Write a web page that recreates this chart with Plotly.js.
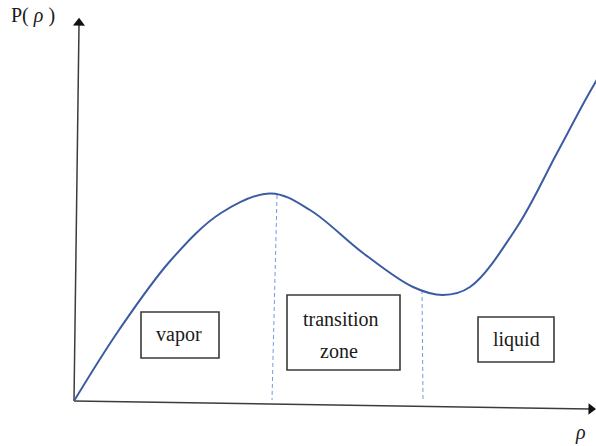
<!DOCTYPE html>
<html>
<head>
<meta charset="utf-8">
<script src="https://cdn.plot.ly/plotly-3.0.1.min.js"></script>
<style>html,body{margin:0;padding:0;background:#fff;}#chart{width:596px;height:446px;}</style>
</head>
<body>
<div id="chart"></div>
<script>
// Equation-of-state curve P(rho) (arbitrary units)
const rho = [0, 0.90, 1.94, 2.94, 3.94, 4.72, 5.78, 6.78, 7.38, 7.92, 8.86, 9.66, 10.26, 10.62];
const pressure = [0, 1.775, 3.525, 4.70, 5.19, 4.775, 3.70, 2.85, 2.65, 2.85, 4.35, 6.20, 7.60, 8.375];

// Dashed phase boundaries (top on the curve, bottom at the axis)
const boundaryRho = [[4.06, 3.96], [6.96, 6.98]];
const boundaryP = [[5.15, 0.025], [2.775, 0.025]];

// Region labels
const regionNames = ['vapor', 'transition', 'zone', 'liquid'];
const axisLabels = ['P( <i>ρ</i> )', '<i>ρ</i>'];

const axisColor = '#3c3c3c';
const curveColor = '#3b5ca3';
const dashColor = '#6f9be0';
const serif = 'Liberation Serif, Times New Roman, serif';

const traces = [];
// drawn axes
traces.push({x: [0, 10.32], y: [0, -0.2], mode: 'lines', line: {color: axisColor, width: 1.5}, hoverinfo: 'skip'});
traces.push({x: [0, 0.1], y: [0, 9.4], mode: 'lines', line: {color: axisColor, width: 1.5}, hoverinfo: 'skip'});
traces.push({x: [10.34], y: [-0.2], mode: 'markers', marker: {symbol: 'triangle-right', size: 10, color: '#111', angle: 0.9}, hoverinfo: 'skip'});
traces.push({x: [0.1], y: [9.45], mode: 'markers', marker: {symbol: 'triangle-up', size: 10.5, color: '#111', angle: 0.75}, hoverinfo: 'skip'});
// boundaries
for (let i = 0; i < boundaryRho.length; i++) {
  traces.push({x: boundaryRho[i], y: boundaryP[i], mode: 'lines', line: {color: dashColor, width: 1, dash: '4px,3px'}, hoverinfo: 'skip'});
}
// curve
traces.push({x: rho, y: pressure, mode: 'lines', line: {color: curveColor, width: 2, shape: 'spline', smoothing: 1}, hoverinfo: 'skip'});

const boxes = [
  {x0: 1.34, x1: 2.90, y0: 1.075, y1: 2.225},
  {x0: 4.26, x1: 6.52, y0: 0.775, y1: 2.65},
  {x0: 8.08, x1: 9.60, y0: 0.975, y1: 2.10}
];
const shapes = boxes.map(b => ({type: 'rect', xref: 'x', yref: 'y', x0: b.x0, x1: b.x1, y0: b.y0, y1: b.y1,
  line: {color: '#3a3a3a', width: 1.6}, fillcolor: 'rgba(255,255,255,0)'}));

const labelPos = [[2.09, 1.66], [5.33, 2.06], [5.29, 1.26], [8.85, 1.53]];
const annotations = regionNames.map((t, i) => ({text: t, x: labelPos[i][0], y: labelPos[i][1], xref: 'x', yref: 'y',
  showarrow: false, xanchor: 'center', yanchor: 'middle', font: {family: serif, size: 20, color: '#1a1a1a'}}));
annotations.push({text: axisLabels[0], x: -0.82, y: 9.645, xref: 'x', yref: 'y', showarrow: false, xanchor: 'center', yanchor: 'middle', font: {family: serif, size: 20, color: '#1a1a1a'}});
annotations.push({text: axisLabels[1], x: 10.12, y: -0.78, xref: 'x', yref: 'y', showarrow: false, xanchor: 'center', yanchor: 'middle', font: {family: serif, size: 20, color: '#1a1a1a'}});

const layout = {
  width: 596, height: 446,
  margin: {l: 0, r: 0, t: 0, b: 0, pad: 0},
  paper_bgcolor: '#fff', plot_bgcolor: '#fff',
  showlegend: false,
  xaxis: {range: [-1.48, 10.44], visible: false, fixedrange: true, domain: [0, 1]},
  yaxis: {range: [-1.125, 10.025], visible: false, fixedrange: true, domain: [0, 1]},
  shapes: shapes,
  annotations: annotations
};
Plotly.newPlot('chart', traces, layout, {staticPlot: true, displayModeBar: false});
</script>
</body>
</html>
